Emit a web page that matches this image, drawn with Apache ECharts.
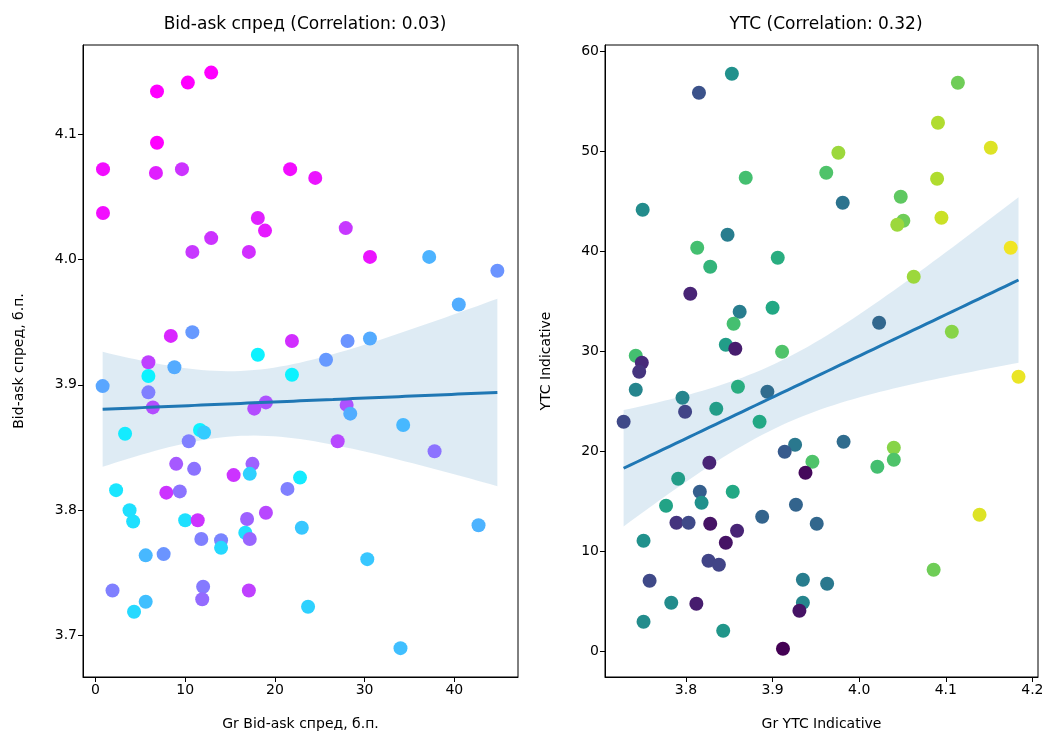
<!DOCTYPE html>
<html><head><meta charset="utf-8">
<script src="https://cdn.jsdelivr.net/npm/echarts@6/dist/echarts.min.js"></script>
<style>html,body{margin:0;padding:0;background:#fff}#c{width:1048px;height:736px}</style>
</head><body><div id="c"></div>
<script>
// ---------- Left panel data: Gr Bid-ask спред vs Bid-ask спред ----------
const leftX = [6.86,10.3,12.9,6.86,0.84,6.74,9.64,21.7,24.5,0.84,18.1,18.9,12.9,10.8,17.1,27.9,30.6,37.2,44.8,40.5,
  10.8,8.4,5.9,8.8,18.1,21.9,5.9,21.9,0.8,5.9,6.4,17.7,19.0,3.3,11.65,12.1,10.4,9.0,11.0,17.5,
  28.1,30.6,25.7,28.0,28.4,34.3,27.0,37.8,15.4,17.2,2.3,7.9,9.4,21.4,22.8,3.8,4.2,10.0,11.4,16.9,
  19.0,23.0,16.7,17.2,11.8,14.0,14.0,5.6,7.6,1.9,5.6,4.3,12.0,11.9,17.1,23.7,42.7,30.3,34.0];
const leftY = [4.134,4.141,4.149,4.093,4.072,4.069,4.072,4.072,4.065,4.037,4.033,4.023,4.017,4.006,4.006,4.025,4.002,4.002,3.991,3.964,
  3.942,3.939,3.918,3.914,3.924,3.935,3.907,3.908,3.899,3.894,3.882,3.881,3.886,3.861,3.864,3.862,3.855,3.837,3.833,3.837,
  3.935,3.937,3.920,3.884,3.877,3.868,3.855,3.847,3.828,3.829,3.816,3.814,3.815,3.817,3.826,3.800,3.791,3.792,3.792,3.793,
  3.798,3.786,3.782,3.777,3.777,3.776,3.770,3.764,3.765,3.736,3.727,3.719,3.739,3.729,3.736,3.723,3.788,3.761,3.690];
const leftC = [1.0,1.0,1.0,1.0,0.95,0.88,0.8,0.95,0.92,0.95,0.88,0.9,0.8,0.78,0.82,0.78,0.92,0.3,0.42,0.32,
  0.4,0.85,0.75,0.33,0.05,0.82,0.05,0.05,0.35,0.5,0.7,0.7,0.68,0.08,0.05,0.2,0.5,0.65,0.55,0.62,
  0.42,0.33,0.4,0.68,0.32,0.28,0.72,0.55,0.8,0.18,0.1,0.8,0.55,0.5,0.08,0.12,0.12,0.12,0.8,0.62,
  0.72,0.22,0.12,0.6,0.5,0.48,0.15,0.28,0.42,0.5,0.25,0.15,0.52,0.58,0.75,0.18,0.3,0.22,0.25];

// ---------- Right panel data: Gr YTC Indicative vs YTC Indicative ----------
const rightX = [3.853,3.815,3.869,3.962,3.750,3.848,3.813,3.906,3.828,4.114,4.091,4.152,3.976,3.981,4.048,4.051,4.044,4.090,4.095,4.175,
  3.805,3.862,3.900,3.855,3.846,3.857,3.911,3.742,3.749,3.746,3.742,3.860,3.894,3.796,3.799,3.835,3.728,3.885,3.926,3.914,
  3.827,3.946,3.938,3.791,4.063,4.023,4.107,4.184,3.982,4.040,4.040,4.021,3.816,3.818,3.854,3.777,3.789,3.803,3.828,3.859,
  3.846,3.888,3.927,3.951,3.751,3.826,3.838,3.758,3.935,3.963,3.783,3.812,3.935,3.931,3.751,3.843,3.912,4.139,4.086];
const rightY = [57.8,55.9,47.4,47.9,44.2,41.7,40.4,39.4,38.5,56.9,52.9,50.4,49.9,44.9,45.5,43.1,42.7,47.3,43.4,40.4,
  35.8,34.0,34.4,32.8,30.7,30.3,30.0,29.6,28.9,28.0,26.2,26.5,26.0,25.4,24.0,24.3,23.0,23.0,20.7,20.0,
  18.9,19.0,17.9,17.3,37.5,32.9,32.0,27.5,21.0,20.4,19.2,18.5,16.0,14.9,16.0,14.6,12.9,12.9,12.8,12.1,
  10.9,13.5,14.7,12.8,11.1,9.1,8.7,7.1,7.2,6.8,4.9,4.8,4.9,4.1,3.0,2.1,0.3,13.7,8.2];
const rightC = [0.5,0.25,0.7,0.72,0.48,0.42,0.7,0.62,0.65,0.78,0.88,0.95,0.85,0.38,0.75,0.78,0.85,0.88,0.92,0.98,
  0.1,0.42,0.6,0.7,0.55,0.08,0.72,0.7,0.12,0.15,0.45,0.62,0.35,0.45,0.2,0.55,0.22,0.6,0.4,0.28,
  0.1,0.72,0.02,0.55,0.85,0.33,0.82,0.97,0.35,0.82,0.72,0.7,0.3,0.5,0.6,0.58,0.15,0.22,0.05,0.1,
  0.05,0.32,0.32,0.33,0.5,0.2,0.2,0.22,0.42,0.4,0.48,0.08,0.45,0.05,0.48,0.52,0.0,0.95,0.78];

// ---------- Tick labels / titles ----------
const leftXTicks = [0,10,20,30,40];
const leftYTicks = [3.7,3.8,3.9,4.0,4.1];
const rightXTicks = [3.8,3.9,4.0,4.1,4.2];
const rightYTicks = [0,10,20,30,40,50,60];
const titles = ['Bid-ask спред (Correlation: 0.03)', 'YTC (Correlation: 0.32)'];
const xNames = ['Gr Bid-ask спред, б.п.', 'Gr YTC Indicative'];
const yNames = ['Bid-ask спред, б.п.', 'YTC Indicative'];

// ---------- regression with 95% CI ----------
function fit(xs, ys) {
  const n = xs.length;
  const mx = xs.reduce((a,b)=>a+b,0)/n, my = ys.reduce((a,b)=>a+b,0)/n;
  let sxx=0, sxy=0;
  for (let i=0;i<n;i++){ sxx+=(xs[i]-mx)**2; sxy+=(xs[i]-mx)*(ys[i]-my); }
  const b = sxy/sxx, a = my - b*mx;
  let sse=0; for (let i=0;i<n;i++) sse += (ys[i]-a-b*xs[i])**2;
  const s = Math.sqrt(sse/(n-2)), t = 1.991;
  const x0 = Math.min(...xs), x1 = Math.max(...xs);
  const line=[], band=[];
  const K=60;
  for (let k=0;k<=K;k++){
    const x = x0 + (x1-x0)*k/K;
    const yh = a + b*x;
    const se = s*Math.sqrt(1/n + (x-mx)**2/sxx);
    line.push([x,yh]); band.push([x, yh - t*se, yh + t*se]);
  }
  return {line, band};
}
const fL = fit(leftX, leftY), fR = fit(rightX, rightY);

function bandSeries(band, idx) {
  return {
    type:'custom', xAxisIndex:idx, yAxisIndex:idx, z:1, silent:true,
    data: band,
    renderItem: function(params, api){
      if (params.dataIndex !== 0) return null;
      const pts = [];
      for (let i=0;i<band.length;i++) pts.push(api.coord([band[i][0], band[i][2]]));
      for (let i=band.length-1;i>=0;i--) pts.push(api.coord([band[i][0], band[i][1]]));
      return {type:'polygon', shape:{points:pts}, style:{fill:'rgba(31,119,180,0.15)'}};
    },
    encode:{x:0, y:1}
  };
}

const FONT = 'DejaVu Sans';
const grids = [
  {left:83, top:45, width:435, height:633},
  {left:605, top:45, width:433, height:632}
];
function axisCommon(ticks, fmt) {
  return {
    axisLine:{show:true, onZero:false, lineStyle:{color:'#000', width:1}},
    axisTick:{show:true, inside:false, length:5, lineStyle:{color:'#000'}, customValues:ticks},
    axisLabel:{show:true, color:'#000', fontSize:14, fontFamily:FONT, margin:6, customValues:ticks, formatter:fmt},
    splitLine:{show:false}
  };
}
const fmt1 = v => (Math.round(v*10)/10).toFixed(1);
const fmt0 = v => String(Math.round(v));

const option = {
  animation:false,
  backgroundColor:'#fff',
  textStyle:{fontFamily:FONT},
  title:[
    {text:titles[0], left:300, top:11, textAlign:'center', textStyle:{fontSize:17, fontWeight:'normal', color:'#000', fontFamily:FONT}},
    {text:titles[1], left:821, top:11, textAlign:'center', textStyle:{fontSize:17, fontWeight:'normal', color:'#000', fontFamily:FONT}}
  ],
  grid: grids.map(g => Object.assign({show:true, borderColor:'#000', borderWidth:1, backgroundColor:'transparent'}, g)),
  xAxis:[
    Object.assign({type:'value', gridIndex:0, min:-1.39, max:47.1, name:xNames[0], nameLocation:'middle', nameGap:40,
      nameTextStyle:{fontSize:14, color:'#000', fontFamily:FONT}}, axisCommon(leftXTicks, fmt0)),
    Object.assign({type:'value', gridIndex:1, min:3.7065, max:4.2065, name:xNames[1], nameLocation:'middle', nameGap:40,
      nameTextStyle:{fontSize:14, color:'#000', fontFamily:FONT}}, axisCommon(rightXTicks, fmt1))
  ],
  yAxis:[
    Object.assign({type:'value', gridIndex:0, min:3.667, max:4.171, name:yNames[0], nameLocation:'middle', nameGap:57,
      nameTextStyle:{fontSize:14, color:'#000', fontFamily:FONT}}, axisCommon(leftYTicks, fmt1)),
    Object.assign({type:'value', gridIndex:1, min:-2.53, max:60.67, name:yNames[1], nameLocation:'middle', nameGap:52,
      nameTextStyle:{fontSize:14, color:'#000', fontFamily:FONT}}, axisCommon(rightYTicks, fmt0))
  ],
  visualMap:[
    {type:'continuous', show:false, seriesIndex:1, dimension:2, min:0, max:1, inRange:{color:['#00ffff','#ff00ff']}},
    {type:'continuous', show:false, seriesIndex:4, dimension:2, min:0, max:1,
      inRange:{color:['#440154','#482475','#414487','#355f8d','#2a788e','#21918c','#22a884','#44bf70','#7ad151','#bddf26','#fde725']}}
  ],
  series:[
    bandSeries(fL.band, 0),
    {type:'scatter', xAxisIndex:0, yAxisIndex:0, symbolSize:14, z:3,
      data: leftX.map((x,i)=>[x, leftY[i], leftC[i]]), itemStyle:{opacity:1}},
    {type:'line', xAxisIndex:0, yAxisIndex:0, data:fL.line, showSymbol:false, z:4,
      lineStyle:{color:'#1f77b4', width:3}},
    bandSeries(fR.band, 1),
    {type:'scatter', xAxisIndex:1, yAxisIndex:1, symbolSize:14, z:3,
      data: rightX.map((x,i)=>[x, rightY[i], rightC[i]]), itemStyle:{opacity:1}},
    {type:'line', xAxisIndex:1, yAxisIndex:1, data:fR.line, showSymbol:false, z:4,
      lineStyle:{color:'#1f77b4', width:3}}
  ]
};
const chart = echarts.init(document.getElementById('c'), null, {renderer:'canvas'});
chart.setOption(option);
</script></body></html>
